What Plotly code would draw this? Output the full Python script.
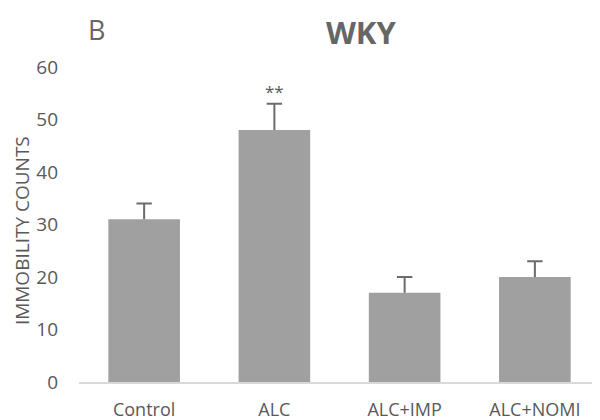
import plotly.graph_objects as go

categories = ["Control", "ALC", "ALC+IMP", "ALC+NOMI"]
means = [31, 48, 17, 20]
sem = [3, 5, 3, 3]
significance = ["", "**", "", ""]
y_ticks = [0, 10, 20, 30, 40, 50, 60]

FONT = "Open Sans"
TXT = "#595959"
ERR = "#6b6b6b"

fig = go.Figure()
fig.add_trace(go.Bar(
    x=categories, y=means,
    marker=dict(color="#a0a0a0", line=dict(width=0)),
    hoverinfo="skip",
))

# error bars: upward stems + caps
sx, sy = [], []
for c, m, e in zip(categories, means, sem):
    sx += [c, c, None]
    sy += [m, m + e, None]
fig.add_trace(go.Scatter(x=sx, y=sy, mode="lines",
                         line=dict(color=ERR, width=2), hoverinfo="skip"))
fig.add_trace(go.Scatter(x=categories, y=[m + e for m, e in zip(means, sem)],
                         mode="markers",
                         marker=dict(symbol="line-ew", size=11,
                                     line=dict(color=ERR, width=2)),
                         hoverinfo="skip"))

for c, m, e, s in zip(categories, means, sem, significance):
    if s:
        fig.add_annotation(x=c, y=m + e, text=s, showarrow=False,
                           yanchor="bottom", yshift=-1,
                           font=dict(family=FONT, size=17, color=TXT))

fig.add_annotation(text="B", x=0.0, y=1.0, xref="paper", yref="paper",
                   xanchor="left", yanchor="bottom", showarrow=False,
                   yshift=17, xshift=7,
                   font=dict(family=FONT, size=27, color="#666666"))

fig.add_annotation(text="IMMOBILITY COUNTS", x=0.0, y=0.479, xref="paper", yref="paper",
                   xanchor="center", yanchor="middle", textangle=-90, showarrow=False,
                   xshift=-57, font=dict(family=FONT, size=19, color=TXT))

fig.update_layout(
    width=592, height=412,
    margin=dict(l=71, r=0, t=59, b=38),
    paper_bgcolor="white", plot_bgcolor="white",
    bargap=0.45,
    showlegend=False,
    title=dict(text="<b>WKY</b>", x=0.596, xanchor="center", y=0.94, yanchor="middle",
               font=dict(family=FONT, size=31, color="#666666")),
    font=dict(family=FONT, color=TXT),
)
fig.update_xaxes(showline=True, linecolor="#d9d9d9", linewidth=2, automargin=False,
                 ticks="", tickfont=dict(size=18, color=TXT), showgrid=False,
                 ticklabelstandoff=10)
fig.update_yaxes(range=[0, 60], tickvals=y_ticks, showgrid=False, zeroline=False,
                 showline=False, ticks="", ticklabelstandoff=20, automargin=False,
                 tickfont=dict(size=19, color=TXT))

fig.write_html("out.html")
